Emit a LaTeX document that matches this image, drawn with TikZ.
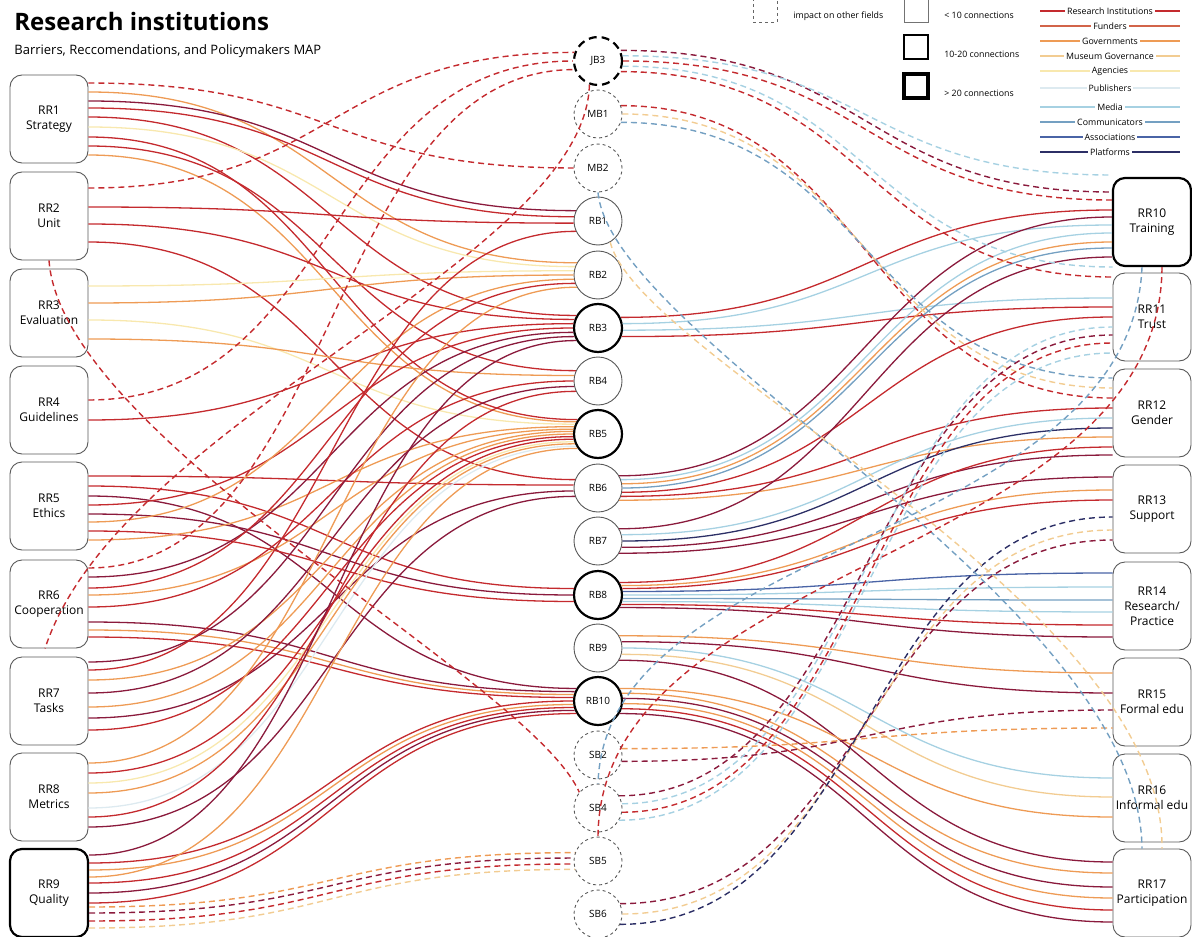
\documentclass[tikz,border=0pt]{standalone}
\usepackage{fontspec}
\setmainfont{Open Sans}
\usetikzlibrary{calc}
\definecolor{cri}{HTML}{C42A2E}
\definecolor{cfu}{HTML}{D2644A}
\definecolor{cgo}{HTML}{EE9B55}
\definecolor{cmu}{HTML}{F2CC92}
\definecolor{cag}{HTML}{F8E8AE}
\definecolor{cpu}{HTML}{DDEAF0}
\definecolor{cme}{HTML}{A6D1E2}
\definecolor{cco}{HTML}{74A0C2}
\definecolor{cas}{HTML}{4A64A6}
\definecolor{cpl}{HTML}{2C2F66}
\definecolor{cdr}{HTML}{8A1A3C}
\begin{document}
\begin{tikzpicture}[x=0.5pt, y=-0.5pt,
    box/.style={draw=black!65, line width=0.45pt, rounded corners=6pt,
        minimum width=39pt, minimum height=44pt, inner sep=1pt, align=center,
        font=\fontsize{6}{7.6}\selectfont},
    boxm/.style={box, draw=black, line width=1.1pt},
    bar/.style={circle, draw=black!65, line width=0.45pt, minimum size=24pt,
        inner sep=0pt, font=\fontsize{5}{6}\selectfont},
    barm/.style={bar, draw=black, line width=1.1pt},
    field/.style={bar, dash pattern=on 1.5pt off 1.5pt},
    fieldm/.style={bar, draw=black, line width=1.1pt, dash pattern=on 4pt off 2.5pt},
    link/.style={line width=0.65pt},
    imp/.style={line width=0.7pt, dash pattern=on 3pt off 2pt},
    legtxt/.style={font=\fontsize{4.4}{5}\selectfont, inner sep=1pt},
]
\useasboundingbox (0,0) rectangle (1192,936);

% Title
\node[anchor=base west, inner sep=0pt, font=\fontsize{12}{14}\selectfont\bfseries] (title) at (14,31) {Research institutions};
\node[anchor=base west, inner sep=0pt, font=\fontsize{6.5}{8}\selectfont] (subtitle) at (14,55) {Barriers, Reccomendations, and Policymakers MAP};

% Legend: line styles and border weights
\node[draw=black!60, line width=0.4pt, dash pattern=on 1.5pt off 1.5pt, minimum size=12pt, inner sep=0pt] (keyimp) at (765,10) {};
\node[legtxt, anchor=base west] (keyimptxt) at (791,19) {impact on other fields};
\node[draw=black!55, line width=0.4pt, minimum size=12pt, inner sep=0pt] (keylow) at (916,10) {};
\node[legtxt, anchor=base west] (keylowtxt) at (942,19) {< 10 connections};
\node[draw=black, line width=1.1pt, minimum size=12pt, inner sep=0pt] (keymid) at (916,47) {};
\node[legtxt, anchor=base west] (keymidtxt) at (942,58) {10-20 connections};
\node[draw=black, line width=2.2pt, minimum size=12pt, inner sep=0pt] (keyhigh) at (916,86) {};
\node[legtxt, anchor=base west] (keyhightxt) at (942,97) {> 20 connections};

% Legend: policymakers
\foreach \yy/\cl/\tx in {11/cri/Research Institutions, 26/cfu/Funders, 41/cgo/Governments,
    56/cmu/Museum Governance, 71/cag/Agencies, 88/cpu/Publishers, 107/cme/Media,
    122/cco/Communicators, 137/cas/Associations, 152/cpl/Platforms} {
  \draw[\cl, line width=0.9pt] (1040,\yy) -- (1180,\yy);
  \node[legtxt, fill=white] (key\cl) at (1110,\yy) {\tx};
}

% Recommendations (left)
\node[box] (rr1) at (49,119) {RR1\\Strategy};
\node[box] (rr2) at (49,216) {RR2\\Unit};
\node[box] (rr3) at (49,313) {RR3\\Evaluation};
\node[box] (rr4) at (49,410) {RR4\\Guidelines};
\node[box] (rr5) at (49,506) {RR5\\Ethics};
\node[box] (rr6) at (49,604) {RR6\\Cooperation};
\node[box] (rr7) at (49,701) {RR7\\Tasks};
\node[box] (rr8) at (49,797) {RR8\\Metrics};
\node[boxm] (rr9) at (49,893) {RR9\\Quality};

% Recommendations (right)
\node[boxm] (rr10) at (1152,222) {RR10\\Training};
\node[box] (rr11) at (1152,317) {RR11\\Trust};
\node[box] (rr12) at (1152,413) {RR12\\Gender};
\node[box] (rr13) at (1152,509) {RR13\\Support};
\node[box] (rr14) at (1152,606) {RR14\\Research/\\Practice};
\node[box] (rr15) at (1152,702) {RR15\\Formal edu};
\node[box] (rr16) at (1152,798) {RR16\\Informal edu};
\node[box] (rr17) at (1152,893) {RR17\\Participation};

% Barriers
\node[fieldm] (jb3) at (598,61) {JB3};
\node[field] (mb1) at (598,114) {MB1};
\node[field] (mb2) at (598,168) {MB2};
\node[bar] (rb1) at (598,221) {RB1};
\node[bar] (rb2) at (598,275) {RB2};
\node[barm] (rb3) at (598,328) {RB3};
\node[bar] (rb4) at (598,381) {RB4};
\node[barm] (rb5) at (598,434) {RB5};
\node[bar] (rb6) at (598,488) {RB6};
\node[bar] (rb7) at (598,541) {RB7};
\node[barm] (rb8) at (598,595) {RB8};
\node[bar] (rb9) at (598,648) {RB9};
\node[barm] (rb10) at (598,701) {RB10};
\node[field] (sb2) at (598,755) {SB2};
\node[field] (sb4) at (598,808) {SB4};
\node[field] (sb5) at (598,861) {SB5};
\node[field] (sb6) at (598,914) {SB6};

% Left recommendations to barriers
\foreach \src/\dy/\tg/\an/\cl in {
    rr1/-27/rb2/150/cgo, rr1/-18/rb1/155/cdr, rr1/-11/rb1/170/cri, rr1/-2/rb3/150/cri,
    rr1/8/rb2/160/cag, rr1/18/rb5/145/cri, rr1/27/rb4/155/cri, rr1/36/rb5/151/cgo,
    rr2/-9/rb1/185/cri, rr2/8/rb3/160/cri, rr2/26/rb6/160/cri,
    rr3/-27/rb2/170/cag, rr3/-10/rb2/180/cgo, rr3/7/rb5/157/cag, rr3/26/rb4/167/cgo,
    rr4/10/rb3/170/cri,
    rr5/-30/rb6/173/cri, rr5/-20/rb8/165/cri, rr5/-10/rb10/150/cdr, rr5/-1/rb3/180/cri,
    rr5/8/rb8/180/cdr, rr5/16/rb2/190/cgo, rr5/25/rb8/195/cri, rr5/34/rb5/163/cgo,
    rr6/-27/rb3/190/cdr, rr6/-16/rb2/200/cri, rr6/-9/rb5/169/cgo, rr6/3/rb4/180/cri,
    rr6/18/rb10/158/cdr, rr6/26/rb10/165/cgo, rr6/33/rb10/172/cri,
    rr7/-39/rb3/200/cdr, rr7/-31/rb1/205/cri, rr7/-21/rb5/174/cgo, rr7/-8/rb4/193/cdr,
    rr7/6/rb5/180/cgo, rr7/17/rb6/187/cdr, rr7/29/rb5/186/cri,
    rr8/-34/rb2/210/cgo, rr8/-24/rb5/192/cri, rr8/-14/rb5/198/cag, rr8/-4/rb5/203/cgo,
    rr8/11/rb5/209/cpu, rr8/20/rb4/205/cri, rr8/30/rb6/200/cdr,
    rr9/-38/rb3/210/cdr, rr9/-30/rb10/180/cri, rr9/-23/rb10/188/cgo, rr9/-16/rb5/215/cgo,
    rr9/-10/rb10/195/cri, rr9/0/rb10/202/cdr, rr9/10/rb10/210/cri}
  \draw[link, \cl] ($(\src.east)+(0,\dy)$) .. controls +(250,0) and +(-250,0) .. (\tg.\an);

% Barriers to right recommendations
\foreach \src/\an/\tg/\dy/\cl in {
    rb3/25/rr10/-12/cri, rb3/10/rr10/3/cme, rb3/-5/rr11/-19/cme, rb3/-20/rr11/-10/cri,
    rb6/30/rr10/-5/cdr, rb6/20/rr10/11/cme, rb6/10/rr10/20/cgo, rb6/0/rr10/26/cco,
    rb6/-10/rr11/0/cri, rb6/-20/rr12/-5/cri, rb6/-30/rr12/24/cgo,
    rb7/30/rr10/35/cdr, rb7/15/rr12/5/cme, rb7/0/rr12/15/cpl, rb7/-15/rr12/42/cdr,
    rb7/-30/rr13/-32/cdr,
    rb8/30/rr12/34/cri, rb8/22/rr13/-19/cgo, rb8/15/rr13/-9/cri, rb8/8/rr14/-33/cas,
    rb8/0/rr14/-19/cme, rb8/-8/rr14/-6/cco, rb8/-15/rr14/6/cme, rb8/-22/rr14/19/cri,
    rb8/-30/rr14/31/cdr,
    rb9/30/rr15/-29/cgo, rb9/15/rr15/-9/cdr, rb9/0/rr16/-20/cme, rb9/-15/rr16/-1/cmu,
    rb9/-30/rr17/-31/cdr,
    rb10/30/rr16/19/cgo, rb10/18/rr17/-20/cgo, rb10/6/rr17/-6/cdr, rb10/-6/rr17/5/cgo,
    rb10/-18/rr17/17/cri, rb10/-30/rr17/29/cdr}
  \draw[link, \cl] (\src.\an) .. controls +(250,0) and +(-250,0) .. ($(\tg.west)+(0,\dy)$);

% Impact on other fields (left)
\foreach \src/\dy/\tg/\an/\cl in {
    rr1/-36/mb2/180/cri, rr2/-28/jb3/160/cri, rr4/-10/jb3/180/cri, rr6/-36/jb3/200/cri,
    rr9/14/sb5/160/cgo, rr9/20/sb5/173/cdr, rr9/28/sb5/187/cri, rr9/35/sb5/200/cmu}
  \draw[imp, \cl] ($(\src.east)+(0,\dy)$) .. controls +(250,0) and +(-250,0) .. (\tg.\an);

% Impact on other fields (right)
\foreach \src/\an/\tg/\dy/\cl in {
    jb3/25/rr10/-30/cdr, jb3/12/rr10/-47/cme, jb3/0/rr10/-22/cri,
    jb3/-12/rr11/-50/cme, jb3/-25/rr11/-40/cri,
    mb1/20/rr12/-15/cri, mb1/0/rr12/-25/cmu, mb1/-20/rr12/-35/cco,
    sb2/15/rr15/26/cgo, sb2/-15/rr15/8/cdr,
    sb4/30/rr11/18/cdr, sb4/10/rr11/10/cme, sb4/-10/rr11/26/cri, sb4/-30/rr11/36/cme,
    sb6/25/rr13/31/cdr, sb6/0/rr13/21/cmu, sb6/-25/rr13/8/cpl}
  \draw[imp, \cl] (\src.\an) .. controls +(250,0) and +(-250,0) .. ($(\tg.west)+(0,\dy)$);

% Impact lines crossing the barrier column
\draw[imp, cri] (rr2.south) .. controls (62,440) and (530,680) .. (sb4.140);
\draw[imp, cri] (jb3.250) .. controls (585,260) and (120,420) .. ($(rr6.south)+(-4,0)$);
\draw[imp, cco] (mb2.270) .. controls (612,340) and (1140,600) .. ($(rr17.north)+(-10,0)$);
\draw[imp, cmu] (rb1.300) .. controls (640,360) and (1165,600) .. ($(rr17.north)+(10,0)$);
\draw[imp, cri] ($(rr10.south)+(10,0)$) .. controls (1160,560) and (600,560) .. (sb5.north);
\draw[imp, cco] ($(rr10.south)+(-10,0)$) .. controls (1130,540) and (605,540) .. (sb4.north);
\end{tikzpicture}
\end{document}
